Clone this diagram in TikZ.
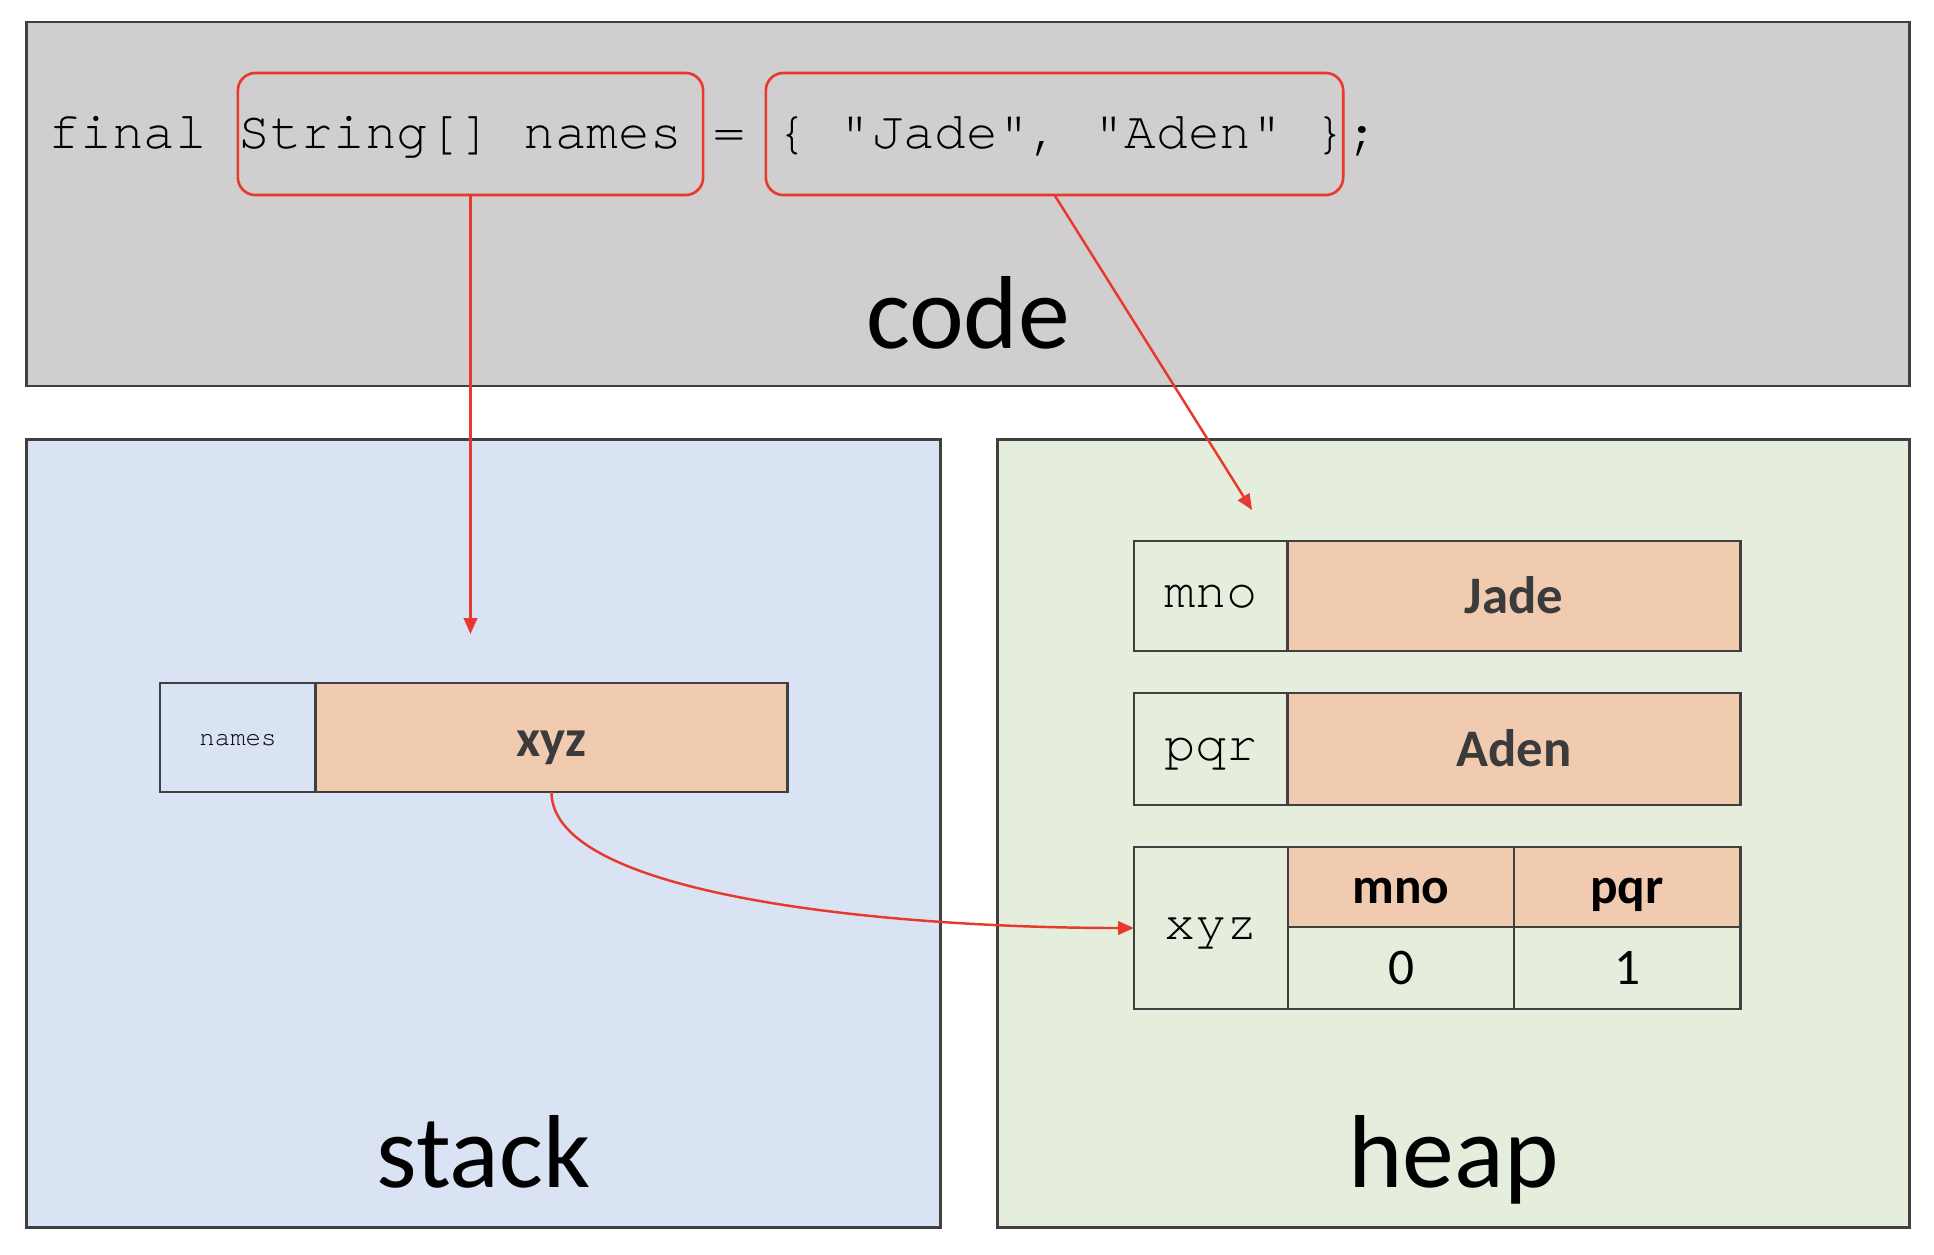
\documentclass[tikz,border=0pt]{standalone}
\usepackage{fontspec}
\newfontfamily\carl{Carlito}
\newfontfamily\mono{texgyrecursor-regular.otf}[Ligatures={NoCommon}]
\usetikzlibrary{arrows.meta}
\definecolor{codebg}{HTML}{D0CECE}
\definecolor{stackbg}{HTML}{DAE3F3}
\definecolor{heapbg}{HTML}{E5EEDC}
\definecolor{peach}{HTML}{F0CBB0}
\definecolor{framec}{HTML}{404040}
\definecolor{redline}{HTML}{E8392E}
\definecolor{darktxt}{HTML}{3B3B3B}
\frenchspacing
\begin{document}
\begin{tikzpicture}[x=0.01cm,y=-0.01cm,
  panel/.style={draw=framec,line width=0.75pt,inner sep=0pt,outer sep=0pt},
  cell/.style={draw=framec,line width=0.8pt,inner sep=0pt,outer sep=0pt},
  redbox/.style={draw=redline,line width=0.75pt,rounded corners=5pt,inner sep=0pt,outer sep=0pt},
  redarrow/.style={draw=redline,line width=0.7pt,-{Triangle[length=4.5pt,width=3.8pt]}},
  biglabel/.style={font=\fontsize{29.5pt}{34pt}\carl,anchor=base,inner sep=0pt},
  monotxt/.style={font=\fontsize{14.8pt}{17pt}\mono,text height=6.8pt,text depth=0pt},
  valtxt/.style={font=\fontsize{15pt}{18pt}\carl\bfseries,text=darktxt,text height=10.2pt,text depth=0pt},
  hdrtxt/.style={font=\fontsize{14.6pt}{17pt}\carl\bfseries,text=black,text height=9.6pt,text depth=0pt},
  idxtxt/.style={font=\fontsize{14.6pt}{17pt}\carl,text=black,text height=9.2pt,text depth=0pt}
]
\useasboundingbox (0,0) rectangle (1934,1254);
\fill[white] (0,0) rectangle (1934,1254);

% panels
\node[panel,fill=codebg,minimum width=18.82cm,minimum height=3.64cm] (code) at (968,204) {};
\node[panel,fill=stackbg,minimum width=9.13cm,minimum height=7.87cm] (stack) at (483.5,833.5) {};
\node[panel,fill=heapbg,minimum width=9.11cm,minimum height=7.87cm] (heap) at (1453.5,833.5) {};

\node[biglabel] (codelbl) at (968,348) {code};
\node[biglabel] (stacklbl) at (483.5,1187) {stack};
\node[biglabel] (heaplbl) at (1453.5,1187) {heap};

% code line
\node[anchor=base west,inner sep=0pt,font=\fontsize{15pt}{18pt}\mono] (line) at (48,148)
  {final String[] names = \{ "Jade", "Aden" \};};
\node[redbox,minimum width=4.65cm,minimum height=1.22cm] (b1) at (470.5,134) {};
\node[redbox,minimum width=5.77cm,minimum height=1.22cm] (b2) at (1054.5,134) {};

% stack record
\node[cell,fill=stackbg,minimum width=1.56cm,minimum height=1.09cm,font=\fontsize{7.3pt}{9pt}\mono,text height=4.3pt,text depth=0pt] (sname) at (238,737.5) {names};
\node[cell,fill=peach,minimum width=4.71cm,minimum height=1.09cm,valtxt,text height=11pt] (sxyz) at (551.5,737.5) {xyz};

% heap records
\node[cell,fill=heapbg,minimum width=1.54cm,minimum height=1.10cm,monotxt] (hmno) at (1211,596) {mno};
\node[cell,fill=peach,minimum width=4.52cm,minimum height=1.10cm,valtxt] (hjade) at (1514,596) {Jade};

\node[cell,fill=heapbg,minimum width=1.54cm,minimum height=1.12cm,monotxt] (hpqr) at (1211,749) {pqr};
\node[cell,fill=peach,minimum width=4.52cm,minimum height=1.12cm,valtxt] (haden) at (1514,749) {Aden};

\node[cell,fill=heapbg,minimum width=1.54cm,minimum height=1.62cm,monotxt] (hxyz) at (1211,928) {xyz};
\node[cell,fill=peach,minimum width=2.26cm,minimum height=0.80cm,hdrtxt] (h0hdr) at (1401,887) {mno};
\node[cell,fill=peach,minimum width=2.26cm,minimum height=0.80cm,hdrtxt] (h1hdr) at (1627,887) {pqr};
\node[cell,fill=heapbg,minimum width=2.26cm,minimum height=0.82cm,idxtxt] (h0) at (1401,968) {0};
\node[cell,fill=heapbg,minimum width=2.26cm,minimum height=0.82cm,idxtxt] (h1) at (1627,968) {1};

% arrows
\coordinate (t1) at (470.5,634);
\coordinate (t2) at (1252,510);
\draw[redarrow] (b1.south) -- (t1);
\draw[redarrow] (b2.south) -- (t2);
\draw[redarrow] (sxyz.south) .. controls +(0,105) and +(-240,0) .. (hxyz.west);
\end{tikzpicture}
\end{document}
